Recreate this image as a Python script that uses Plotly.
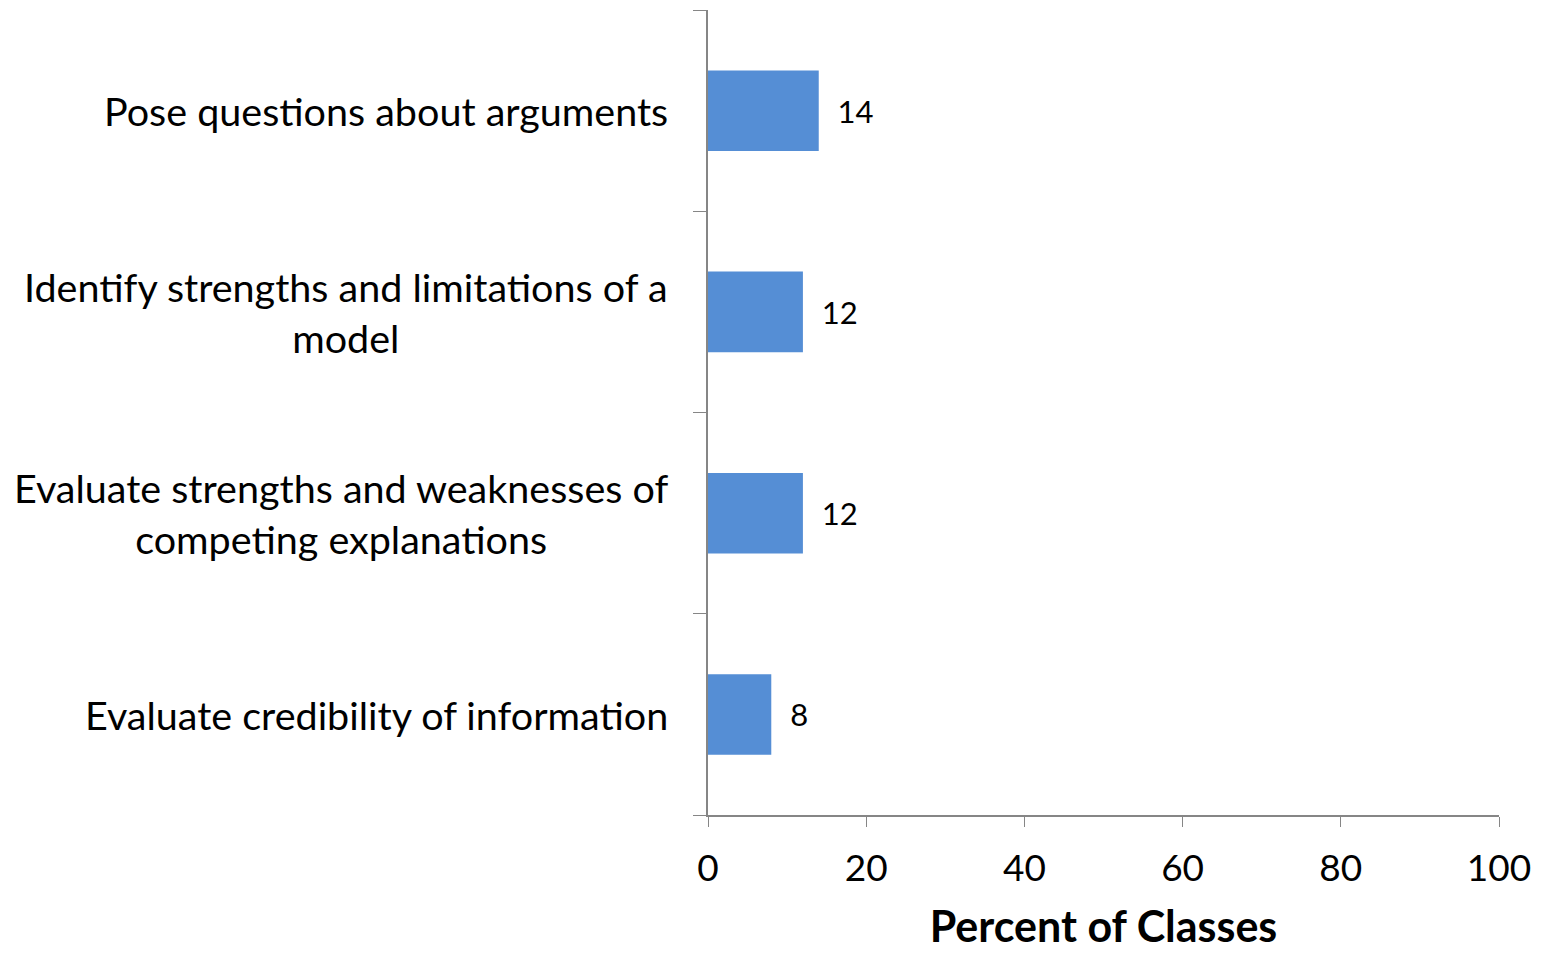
import plotly.graph_objects as go

categories = [
    "Evaluate credibility of information",
    "Evaluate strengths and weaknesses of<br>competing explanations",
    "Identify strengths and limitations of a<br>model",
    "Pose questions about arguments",
]
values = [8, 12, 12, 14]
x_ticks = [0, 20, 40, 60, 80, 100]

FONT = "Lato"
fig = go.Figure()
fig.add_trace(go.Bar(
    y=list(range(len(categories))), x=values, orientation="h",
    marker=dict(color="#558ED5", line=dict(width=0)),
    text=[str(v) for v in values], texttemplate="  %{text}",
    textposition="outside",
    textfont=dict(family=FONT, size=31, color="black"),
    cliponaxis=False, width=0.4,
))

for i, c in enumerate(categories):
    fig.add_annotation(x=0, y=i, xref="paper", yref="y", text=c,
                       xanchor="right", yanchor="middle", align="center",
                       xshift=-38, showarrow=False,
                       font=dict(family=FONT, size=39.5, color="black"))

fig.update_layout(
    width=1540, height=945,
    margin=dict(l=700, r=49, t=2, b=138),
    plot_bgcolor="white", paper_bgcolor="white",
    showlegend=False,
    font=dict(family=FONT, color="black"),
    xaxis=dict(range=[0, 100], tickvals=x_ticks, showgrid=False,
               showline=True, linecolor="#868686", linewidth=1.5,
               ticks="outside", ticklen=10, tickcolor="#868686",
               tickfont=dict(family=FONT, size=37),
               ticklabelstandoff=10,
               title=dict(text="<b>Percent of Classes</b>",
                          font=dict(family=FONT, size=43), standoff=24),
               zeroline=False),
    yaxis=dict(range=[-0.5, 3.5], tickvals=[-0.5, 0.5, 1.5, 2.5, 3.5],
               showticklabels=False, showgrid=False,
               showline=True, linecolor="#868686", linewidth=1.5,
               ticks="outside", ticklen=13, tickcolor="#868686",
               zeroline=False),
)
fig.write_html("out.html")
